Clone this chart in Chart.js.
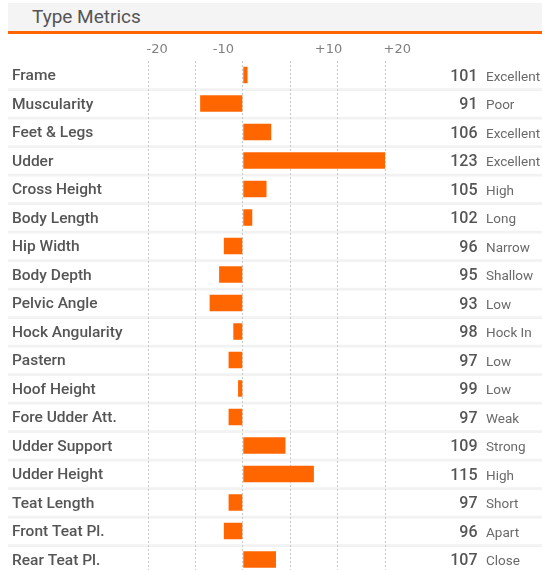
<!DOCTYPE html>
<html>
<head>
<meta charset="utf-8">
<script src="https://cdn.jsdelivr.net/npm/chart.js@4"></script>
<style>
    html, body { margin: 0; padding: 0; background: #fff; overflow: hidden; }
    #wrap { position: relative; width: 542px; height: 570px; overflow: hidden; }
    #titleBar {
        position: absolute; left: 8px; top: 3px; width: 534px; height: 28px;
        background: #f4f4f4; color: #555;
        font: 19px Roboto, sans-serif; line-height: 28px;
        padding-left: 24px; box-sizing: border-box;
    }
    #rule { position: absolute; left: 8px; top: 31px; width: 534px; height: 3px; background: #ff6600; }
    #typeChart { position: absolute; left: 0; top: 0; }
</style>
</head>
<body>
<div id="wrap">
    <div id="titleBar">Type Metrics</div>
    <div id="rule"></div>
    <canvas id="typeChart" width="542" height="580"></canvas>
</div>
<script>
// Traits, shown top to bottom
const traits = ['Frame', 'Muscularity', 'Feet & Legs', 'Udder', 'Cross Height', 'Body Length',
    'Hip Width', 'Body Depth', 'Pelvic Angle', 'Hock Angularity', 'Pastern', 'Hoof Height',
    'Fore Udder Att.', 'Udder Support', 'Udder Height', 'Teat Length', 'Front Teat Pl.', 'Rear Teat Pl.'];

// Index score printed on the right
const scores = [101, 91, 106, 123, 105, 102, 96, 95, 93, 98, 97, 99, 97, 109, 115, 97, 96, 107];

// Word next to each score
const descriptors = ['Excellent', 'Poor', 'Excellent', 'Excellent', 'High', 'Long', 'Narrow', 'Shallow',
    'Low', 'Hock In', 'Low', 'Low', 'Weak', 'Strong', 'High', 'Short', 'Apart', 'Close'];

// Bar length in axis units
const barValues = [1, -9, 6, 30, 5, 2, -4, -5, -7, -2, -3, -1, -3, 9, 15, -3, -4, 7];

// Axis
const axisMin = -20;
const axisMax = 30;
const tickLabels = ['-20', '-10', '+10', '+20'];
const tickAnchors = [-20, -6, 15.5, 30];

const ORANGE = '#ff6600';

// Draw row bands, side labels, scores and top tick text
const rowDecor = {
    id: 'rowDecor',
    beforeDraw(chart) {
        const ctx = chart.ctx;
        const y = chart.scales.y;
        ctx.save();
        ctx.fillStyle = '#f2f2f2';
        for (let i = 0; i < traits.length - 1; i++) {
            const mid = (y.getPixelForValue(i) + y.getPixelForValue(i + 1)) / 2;
            ctx.fillRect(8, mid - 1, 534, 2.75);
        }
        ctx.restore();
    },
    afterDraw(chart) {
        const ctx = chart.ctx;
        const x = chart.scales.x;
        const y = chart.scales.y;
        ctx.save();

        // top tick text
        ctx.font = '13px "DejaVu Sans", sans-serif';
        ctx.fillStyle = '#808080';
        ctx.textAlign = 'left';
        ctx.textBaseline = 'alphabetic';
        tickLabels.forEach((t, i) => {
            ctx.fillText(t, x.getPixelForValue(tickAnchors[i]) - 1.5, 52.5);
        });

        traits.forEach((name, i) => {
            const cy = y.getPixelForValue(i);

            ctx.font = '500 15.5px Roboto, sans-serif';
            ctx.fillStyle = '#555';
            ctx.textAlign = 'left';
            ctx.fillText(name, 12, cy + 5);

            ctx.font = '500 16px Roboto, sans-serif';
            ctx.fillStyle = '#555';
            ctx.textAlign = 'right';
            ctx.fillText(String(scores[i]), 477.5, cy + 5.5);

            ctx.font = '13.5px Roboto, sans-serif';
            ctx.fillStyle = '#6a6a6a';
            ctx.textAlign = 'left';
            ctx.fillText(descriptors[i], 486, cy + 5.5);
        });
        ctx.restore();
    }
};

new Chart(document.getElementById('typeChart'), {
    type: 'bar',
    data: {
        labels: traits,
        datasets: [{
            data: barValues,
            backgroundColor: ORANGE,
            borderWidth: 0,
            categoryPercentage: 1,
            barPercentage: 0.575
        }]
    },
    options: {
        indexAxis: 'y',
        responsive: false,
        animation: false,
        devicePixelRatio: 1,
        layout: { padding: { left: 148, right: 157, top: 60.75, bottom: 6.25 } },
        plugins: { legend: { display: false }, tooltip: { enabled: false } },
        scales: {
            x: {
                position: 'top',
                min: axisMin,
                max: axisMax,
                ticks: { display: false, stepSize: 10 },
                grid: { color: '#c8c8c8', lineWidth: 1, drawTicks: false },
                border: { display: false, dash: [2, 2] }
            },
            y: { display: false }
        }
    },
    plugins: [rowDecor]
});
</script>
</body>
</html>
